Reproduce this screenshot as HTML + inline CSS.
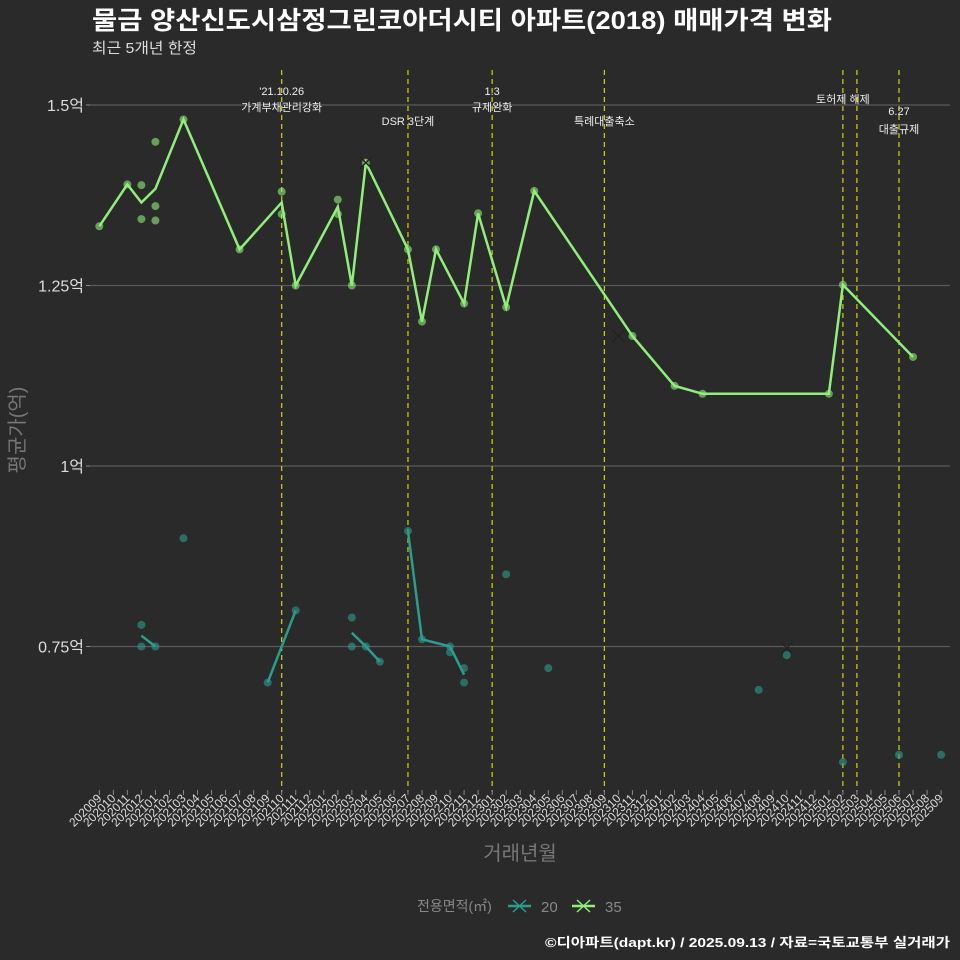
<!DOCTYPE html>
<html><head><meta charset="utf-8"><style>
body{margin:0;background:#2b2a2b;}
svg{display:block;font-family:"Liberation Sans","Noto Sans CJK KR",sans-serif;}
</style></head><body>
<svg id="c" width="960" height="960" viewBox="0 0 960 960">
<rect width="960" height="960" fill="#2b2a2b"/>
<text x="92" y="29" fill="#fff" font-size="25" font-weight="bold" textLength="740" lengthAdjust="spacingAndGlyphs">물금 양산신도시삼정그린코아더시티 아파트(2018) 매매가격 변화</text>
<text x="92" y="53" fill="#ddd" font-size="15" textLength="105" lengthAdjust="spacingAndGlyphs">최근 5개년 한정</text>
<g id="grid"></g><g id="vlines"></g><g id="marks"></g><g id="xt"></g>
<text transform="translate(24,430) rotate(-90)" text-anchor="middle" fill="#777" font-size="20">평균가(억)</text>
<text x="520" y="860" text-anchor="middle" fill="#777" font-size="20">거래년월</text>
<g>
<text x="417" y="911" fill="#888" font-size="14">전용면적(㎡)</text>
<g><line x1="508" y1="906" x2="531" y2="906" stroke="#2a9d8f" stroke-width="2.5"/><path d="M513 900L526 912M526 900L513 912" stroke="#2a9d8f" stroke-width="1.5"/><text x="541" y="912" fill="#888" font-size="15">20</text></g>
<g><line x1="572" y1="906" x2="595" y2="906" stroke="#90ee7a" stroke-width="2.5"/><path d="M577 900L590 912M590 900L577 912" stroke="#90ee7a" stroke-width="1.5"/><text x="605" y="912" fill="#888" font-size="15">35</text></g>
</g>
<text x="950" y="947" text-anchor="end" fill="#fff" font-size="13" font-weight="bold" textLength="405" lengthAdjust="spacingAndGlyphs">©디아파트(dapt.kr) / 2025.09.13 / 자료=국토교통부 실거래가</text>
</svg>
<script>
const yTicks=[1.5,1.25,1.0,0.75];
const yTickLabels=["1.5억","1.25억","1억","0.75억"];
const months=[];for(let y=2020,m=9;months.length<61;){months.push(y+String(m).padStart(2,'0'));m++;if(m>12){m=1;y++;}}
const l35Idx=[0,2,3,4,6,10,13,14,17,18,19,22,23,24,26,27,29,31,38,41,43,52,53,58];
const l35Val=[1.332,1.390,1.365,1.384,1.480,1.300,1.365,1.250,1.359,1.250,1.420,1.300,1.200,1.300,1.225,1.350,1.220,1.381,1.180,1.111,1.100,1.100,1.251,1.151];
const d35Idx=[0,2,3,3,4,4,4,6,10,13,13,14,17,17,18,19,22,23,24,26,27,29,31,38,41,43,52,53,58];
const d35Val=[1.332,1.390,1.389,1.342,1.449,1.360,1.340,1.480,1.300,1.380,1.349,1.250,1.369,1.349,1.250,1.420,1.300,1.200,1.300,1.225,1.350,1.220,1.381,1.180,1.111,1.100,1.100,1.251,1.151];
const x35Idx=[19,37];const x35Val=[1.420,1.180];
const l20Idx=[3,4,null,12,14,null,18,19,20,null,22,23,25,26];
const l20Val=[0.765,0.750,null,0.700,0.800,null,0.769,0.750,0.729,null,0.910,0.760,0.750,0.711];
const d20Idx=[3,3,4,6,12,14,18,18,19,20,22,23,25,25,26,26,29,32,47,49,53,57,60];
const d20Val=[0.780,0.750,0.750,0.900,0.700,0.800,0.790,0.750,0.750,0.729,0.910,0.760,0.750,0.742,0.720,0.700,0.850,0.720,0.690,0.738,0.590,0.600,0.600];
const x20Idx=[49];const x20Val=[0.748];
const evIdx=[13,22,28,36,53,54,57];
const evLabels=[["'21.10.26","가계부채관리강화"],["DSR 3단계"],["1.3","규제완화"],["특례대출축소"],["토허제 해제"],[],["6.27","대출규제"]];
const evLabelY=[[95,111],[125],[95,111],[125],[103],[],[115,133]];
const xs=i=>99.3+14.03*i, ys=v=>105+(1.5-v)*722;
const NS='http://www.w3.org/2000/svg';
function mk(t,a,p){const e=document.createElementNS(NS,t);for(const k in a)e.setAttribute(k,a[k]);document.getElementById(p).appendChild(e);return e;}
yTicks.forEach((v,i)=>{
 const g=mk('line',{x1:90,x2:950,y1:ys(v),y2:ys(v),stroke:'#5a5a5a','stroke-width':1.2},'grid');
 
 
 mk('line',{x1:86,x2:90,y1:ys(v),y2:ys(v),stroke:'#888'},'grid');
 const t=mk('text',{x:84,y:ys(v)+6,'text-anchor':'end',fill:'#ddd','font-size':16},'grid');t.textContent=yTickLabels[i];
 
 
});
months.forEach((m,i)=>{
 mk('line',{x1:xs(i),x2:xs(i),y1:790,y2:795,stroke:'#888'},'xt');
 const t=mk('text',{transform:`translate(${xs(i)+3},799) rotate(-45)`,'text-anchor':'end',fill:'#ddd','font-size':12},'xt');t.textContent=m;
 
 
});
evIdx.forEach((k,i)=>{
 const l=mk('line',{x1:xs(k),x2:xs(k),y1:70,y2:792,stroke:'#d4d400','stroke-width':1.2,'stroke-dasharray':'5,4'},'vlines');
 
 
 evLabels[i].forEach((s,j)=>{const t=mk('text',{x:xs(k),y:evLabelY[i][j],'text-anchor':'middle',fill:'#eee','font-size':11},'vlines');t.textContent=s;
  
  });
});
function path(idx,val){let d='',pen=false;idx.forEach((k,i)=>{if(k===null){pen=false;return;}d+=(pen?'L':'M')+xs(k)+' '+ys(val[i]);pen=true;});return d;}
function series(name,col,lI,lV,dI,dV,xI,xV){
 dI.forEach((k,i)=>{const c=mk('circle',{cx:xs(k),cy:ys(dV[i]),r:4,fill:col,opacity:0.6},'marks');
  
  });
 const p=mk('path',{d:path(lI,lV),fill:'none',stroke:col,'stroke-width':2.5},'marks');
 
 
 xI.forEach((k,i)=>{const x=xs(k),y=ys(xV[i]);const e=mk('path',{d:`M${x-6} ${y-6}L${x+6} ${y+6}M${x+6} ${y-6}L${x-6} ${y+6}`,stroke:'#222','stroke-width':1.3},'marks');
  
  });
}
series('20','#2a9d8f',l20Idx,l20Val,d20Idx,d20Val,x20Idx,x20Val);
series('35','#90ee7a',l35Idx,l35Val,d35Idx,d35Val,x35Idx,x35Val);
</script>
</body></html>
